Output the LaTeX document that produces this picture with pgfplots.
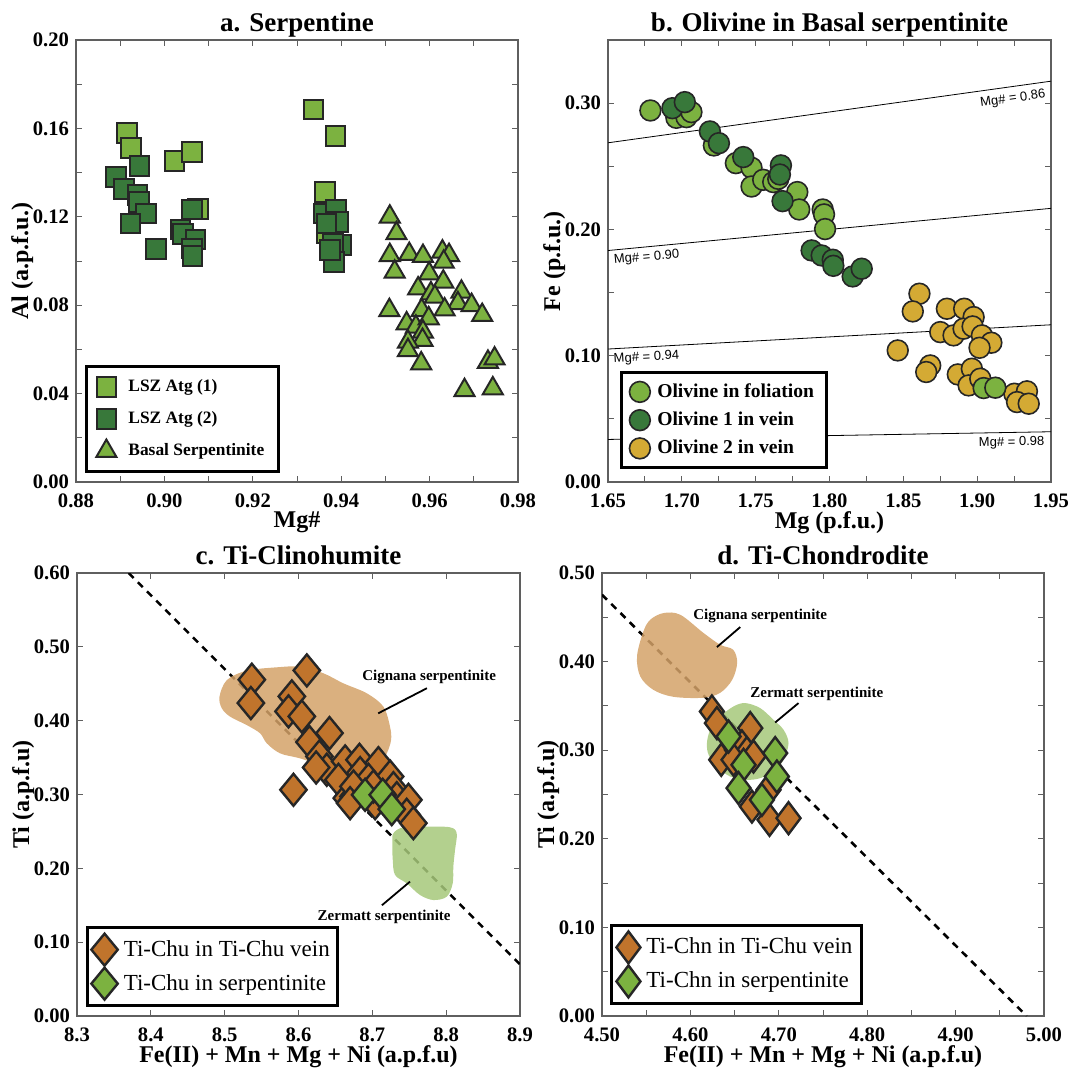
\documentclass[border=0pt]{standalone}
\usepackage{fontspec}
\setmainfont{Liberation Serif}
\newfontfamily\lsans{Liberation Sans}
\usepackage{pgfplots}
\pgfplotsset{compat=1.18}

\definecolor{lgreen}{RGB}{124,178,64}
\definecolor{dgreen}{RGB}{56,120,58}
\definecolor{gold}{RGB}{212,170,52}
\definecolor{orng}{RGB}{192,116,44}
\definecolor{cign}{RGB}{212,162,104}
\definecolor{zerm}{RGB}{166,200,122}
\definecolor{frame}{RGB}{95,95,95}

\pgfplotsset{
 panel/.style={scale only axis, width=221pt, height=221pt,
   axis line style={frame, line width=0.6pt},
   tick style={frame, line width=0.5pt},
   major tick length=3pt, minor tick length=3pt,
   tick align=inside, scaled ticks=false,
   ticklabel style={font=\fontsize{10.3}{12}\selectfont\bfseries},
   xticklabel style={yshift=-2.5pt},
   /pgf/number format/assume math mode=true,
   /pgf/number format/fixed, /pgf/number format/fixed zerofill,
   /pgf/number format/precision=2,
   label style={font=\fontsize{12}{14}\selectfont\bfseries},
   ylabel shift=-7pt, xlabel shift=-5pt,
   title style={font=\fontsize{13.5}{15}\selectfont\bfseries, at={(0.5,1)}, anchor=base, yshift=-1.5pt},
   legend cell align=left,
   legend style={draw=black, line width=1.5pt, fill=white, inner xsep=3pt, inner ysep=3pt, column sep=2pt},
 },
 sqL/.style={only marks, mark=square*, mark size=4.9pt, mark options={fill=lgreen, draw=black!85, line width=1pt}},
 sqD/.style={only marks, mark=square*, mark size=4.9pt, mark options={fill=dgreen, draw=black!85, line width=1pt}},
 triL/.style={only marks, mark=triangle*, mark size=5.8pt, mark options={fill=lgreen, draw=black!85, line width=1pt}},
 ciL/.style={only marks, mark=*, mark size=5.2pt, mark options={fill=lgreen, draw=black!85, line width=0.8pt}},
 ciD/.style={only marks, mark=*, mark size=5.2pt, mark options={fill=dgreen, draw=black!85, line width=0.8pt}},
 ciG/.style={only marks, mark=*, mark size=5.2pt, mark options={fill=gold, draw=black!85, line width=0.8pt}},
 diO/.style={only marks, mark=diamond*, mark size=8pt, mark options={fill=orng, draw=black!85, line width=1.2pt}},
 diG/.style={only marks, mark=diamond*, mark size=8pt, mark options={fill=lgreen, draw=black!85, line width=1.2pt}},
 diOc/.style={only marks, mark=diamond*, mark size=8pt, mark options={fill=orng, draw=black!85, line width=1.2pt, xscale=1.1}},
 diGc/.style={only marks, mark=diamond*, mark size=8pt, mark options={fill=lgreen, draw=black!85, line width=1.2pt, xscale=1.1}},
}

\begin{document}
\begin{tikzpicture}
\useasboundingbox (0pt,0pt) rectangle (535pt,-535.5pt);

% ---------------- a ----------------
\begin{axis}[panel, at={(38pt,-241pt)}, anchor=south west,
  title={a. Serpentine},
  xmin=0.88, xmax=0.98, ymin=0, ymax=0.2,
  xtick={0.88,0.90,0.92,0.94,0.96,0.98},
  ytick={0,0.04,0.08,0.12,0.16,0.20},
  minor tick num=1,
  xlabel={Mg\#}, ylabel={Al (a.p.f.u.)},
  legend style={at={(0.02,0.02)}, anchor=south west, font=\fontsize{8.7}{10}\selectfont\bfseries, row sep=4.5pt, inner xsep=5pt, inner ysep=4.5pt, column sep=4pt},
]
\addplot[sqL] coordinates {
(0.9337,0.1686) (0.9387,0.1565) (0.8915,0.1580) (0.8924,0.1510) (0.9023,0.1452)
(0.9063,0.1493) (0.9076,0.1235) (0.9364,0.1313) (0.9367,0.1125)
};
\addlegendentry{LSZ Atg (1)}
\addplot[sqD] coordinates {
(0.8944,0.1429) (0.8891,0.1381) (0.8909,0.1327) (0.8939,0.1298) (0.8942,0.1268)
(0.8959,0.1215) (0.8923,0.1170) (0.8981,0.1054) (0.9036,0.1143) (0.9042,0.1122)
(0.9062,0.1233) (0.9070,0.1098) (0.9062,0.1057) (0.9064,0.1023) (0.9360,0.1215)
(0.9388,0.1230) (0.9393,0.1177) (0.9401,0.1072) (0.9382,0.1079) (0.9384,0.0996)
(0.9375,0.1050) (0.9367,0.1170)
};
\addlegendentry{LSZ Atg (2)}
\addplot[triL] coordinates {
(0.9510,0.1200) (0.9525,0.1125) (0.9510,0.1026) (0.9554,0.1031) (0.9585,0.1022)
(0.9629,0.1042) (0.9644,0.1026) (0.9521,0.0951) (0.9599,0.0943) (0.9632,0.0996)
(0.9631,0.0906) (0.9574,0.0875) (0.9603,0.0853) (0.9612,0.0838) (0.9672,0.0860)
(0.9664,0.0808) (0.9695,0.0800) (0.9634,0.0780) (0.9509,0.0777) (0.9582,0.0777)
(0.9719,0.0755) (0.9548,0.0717) (0.9569,0.0702) (0.9598,0.0740) (0.9585,0.0679)
(0.9584,0.0642) (0.9551,0.0634) (0.9551,0.0596) (0.9581,0.0536) (0.9732,0.0543)
(0.9747,0.0558) (0.9679,0.0415) (0.9743,0.0423)
};
\addlegendentry{Basal Serpentinite}
\end{axis}

% ---------------- b ----------------
\begin{axis}[panel, at={(304pt,-241pt)}, anchor=south west, width=221.5pt,
  title={b. Olivine in Basal serpentinite},
  xmin=1.65, xmax=1.95, ymin=0, ymax=0.35,
  xtick={1.65,1.70,1.75,1.80,1.85,1.90,1.95},
  ytick={0,0.1,0.2,0.3},
  minor tick num=1,
  xlabel={Mg (p.f.u.)}, ylabel={Fe (p.f.u.)},
  legend style={at={(0.027,0.029)}, anchor=south west, font=\fontsize{9.8}{11}\selectfont\bfseries, row sep=1.8pt, inner xsep=4pt, inner ysep=3.5pt, column sep=1.5pt},
]
\addplot[black, line width=0.4pt, forget plot] coordinates {(1.65,0.2686) (1.95,0.3174)};
\addplot[black, line width=0.4pt, forget plot] coordinates {(1.65,0.1833) (1.95,0.2167)};
\addplot[black, line width=0.4pt, forget plot] coordinates {(1.65,0.1053) (1.95,0.1245)};
\addplot[black, line width=0.4pt, forget plot] coordinates {(1.65,0.0337) (1.95,0.0398)};
\node[font=\lsans\fontsize{6.5}{8}\selectfont, anchor=north east, rotate=7.9, inner sep=1pt] at (axis cs:1.947,0.3135) {Mg\# = 0.86};
\node[font=\lsans\fontsize{6.5}{8}\selectfont, anchor=north west, rotate=5.4, inner sep=1pt] at (axis cs:1.652,0.1815) {Mg\# = 0.90};
\node[font=\lsans\fontsize{6.5}{8}\selectfont, anchor=north west, rotate=3.1, inner sep=1pt] at (axis cs:1.652,0.1035) {Mg\# = 0.94};
\node[font=\lsans\fontsize{6.5}{8}\selectfont, anchor=north east, rotate=1, inner sep=1pt] at (axis cs:1.947,0.0380) {Mg\# = 0.98};
\addplot[ciG, forget plot] coordinates {
(1.8609,0.1491) (1.8564,0.1351) (1.8795,0.1372) (1.8912,0.1372) (1.8976,0.1306)
(1.8750,0.1187) (1.8840,0.1161) (1.8908,0.1214) (1.8969,0.1232) (1.9032,0.1161)
(1.9096,0.1103) (1.9016,0.1063) (1.8462,0.1042) (1.8682,0.0923) (1.8655,0.0871)
(1.8869,0.0852) (1.8964,0.0897) (1.8942,0.0765) (1.9021,0.0818) (1.9252,0.0699)
(1.9337,0.0718) (1.9270,0.0633) (1.9349,0.0620)
};
\addplot[ciL] coordinates {
(1.6787,0.2942) (1.6963,0.2884) (1.7031,0.2889) (1.7065,0.2929) (1.7217,0.2665)
(1.7366,0.2525) (1.7472,0.2488) (1.7472,0.2340) (1.7551,0.2393) (1.7619,0.2375)
(1.7653,0.2401) (1.7782,0.2296) (1.7795,0.2158) (1.7954,0.2158) (1.7963,0.2119)
(1.7970,0.2003) (1.9044,0.0744) (1.9123,0.0747)
};
\addlegendentry{Olivine in foliation}
\addplot[ciD] coordinates {
(1.6936,0.2960) (1.7020,0.3008) (1.7190,0.2776) (1.7251,0.2683) (1.7416,0.2573)
(1.7671,0.2507) (1.7664,0.2435) (1.7682,0.2224) (1.7879,0.1834) (1.7947,0.1794)
(1.8022,0.1760) (1.8026,0.1712) (1.8157,0.1628) (1.8218,0.1689)
};
\addlegendentry{Olivine 1 in vein}
\addlegendimage{ciG}
\addlegendentry{Olivine 2 in vein}
\end{axis}

% ---------------- c ----------------
\begin{axis}[panel, at={(38.5pt,-508pt)}, anchor=south west, width=221.5pt, height=221.5pt,
  title={c. Ti-Clinohumite},
  xmin=8.3, xmax=8.9, ymin=0, ymax=0.6,
  xtick={8.3,8.4,8.5,8.6,8.7,8.8,8.9},
  ytick={0,0.1,0.2,0.3,0.4,0.5,0.6},
  xticklabel style={/pgf/number format/precision=1},
  xlabel={Fe(II) + Mn + Mg + Ni (a.p.f.u)}, ylabel={Ti (a.p.f.u)},
  legend style={at={(0.02,0.02)}, anchor=south west, font=\fontsize{11.5}{13}\selectfont, row sep=1pt, inner xsep=2pt, column sep=1pt},
]
\addplot[black, line width=1.3pt, dash pattern=on 3.5pt off 3pt, forget plot] coordinates {(8.37,0.6) (8.9,0.07)};
\addplot[fill=cign, draw=none, fill opacity=0.85, smooth cycle, tension=0.55, forget plot] coordinates {
(8.493,0.4325) (8.503,0.455) (8.530,0.4677) (8.5707,0.4723) (8.6022,0.4731) (8.6337,0.4642)
(8.6608,0.4506) (8.6925,0.4371) (8.715,0.419) (8.724,0.3918) (8.7254,0.3738) (8.7196,0.3558)
(8.7105,0.3423) (8.674,0.3332) (8.638,0.3377) (8.602,0.349) (8.575,0.3558) (8.557,0.3694)
(8.548,0.3829) (8.530,0.394) (8.5075,0.4054) (8.4962,0.4167)
};
\addplot[fill=zerm, draw=none, fill opacity=0.85, smooth cycle, tension=0.55, forget plot] coordinates {
(8.7285,0.2475) (8.742,0.2556) (8.7737,0.2564) (8.8052,0.2556) (8.8143,0.2475) (8.812,0.2248)
(8.8097,0.2022) (8.8089,0.1797) (8.8008,0.1616) (8.7826,0.1571) (8.7646,0.1639) (8.7466,0.1797)
(8.7308,0.191) (8.7277,0.2113) (8.7271,0.2339)
};
\addplot[black, line width=0.9pt, forget plot] coordinates {(8.774,0.444) (8.708,0.410)};
\addplot[black, line width=0.9pt, forget plot] coordinates {(8.713,0.150) (8.751,0.182)};
\node[font=\fontsize{7.5}{9}\selectfont\bfseries] at (axis cs:8.777,0.4587) {Cignana serpentinite};
\node[font=\fontsize{7.5}{9}\selectfont\bfseries] at (axis cs:8.716,0.1347) {Zermatt serpentinite};
\addplot[diOc] coordinates {
(8.5368,0.4555) (8.5355,0.4239) (8.6113,0.4681) (8.5910,0.4329) (8.5865,0.4126)
(8.6045,0.4058) (8.6149,0.3710) (8.6420,0.3832) (8.6284,0.3516) (8.6383,0.3335)
(8.6239,0.3366) (8.5932,0.3064) (8.6632,0.3448) (8.6826,0.3470) (8.7083,0.3425)
(8.6541,0.3199) (8.6654,0.2951) (8.6745,0.2973) (8.6835,0.3290) (8.6948,0.3199)
(8.7038,0.2883) (8.7241,0.3244) (8.7286,0.3086) (8.7331,0.2951) (8.7489,0.2928)
(8.7466,0.2725) (8.7556,0.2612) (8.6745,0.3109) (8.7015,0.3109) (8.6699,0.2883)
};
\addlegendentry{Ti-Chu in Ti-Chu vein}
\addplot[diGc] coordinates {
(8.6902,0.2996) (8.7141,0.2996) (8.7263,0.2802)
};
\addlegendentry{Ti-Chu in serpentinite}
\end{axis}

% ---------------- d ----------------
\begin{axis}[panel, at={(301pt,-508pt)}, anchor=south west, width=221pt, height=221.5pt,
  title={d. Ti-Chondrodite},
  xmin=4.5, xmax=5.0, ymin=0, ymax=0.5,
  xtick={4.5,4.6,4.7,4.8,4.9,5.0},
  ytick={0,0.1,0.2,0.3,0.4,0.5},
  minor tick num=1,
  xlabel={Fe(II) + Mn + Mg + Ni (a.p.f.u)}, ylabel={Ti (a.p.f.u)},
  legend style={at={(0.018,0.025)}, anchor=south west, font=\fontsize{11.5}{13}\selectfont, row sep=1pt, inner xsep=2.5pt, column sep=1pt},
]
\addplot[black, line width=1.3pt, dash pattern=on 3.5pt off 3pt, forget plot] coordinates {(4.5,0.4755) (4.9804,0)};
\addplot[fill=cign, draw=none, fill opacity=0.85, smooth cycle, tension=0.55, forget plot] coordinates {
(4.5433,0.3832) (4.5396,0.4058) (4.5467,0.4337) (4.5546,0.4473) (4.5696,0.4548) (4.5885,0.4529)
(4.6145,0.4326) (4.6337,0.4190) (4.6484,0.4134) (4.6529,0.3987) (4.6473,0.3795) (4.6337,0.3648)
(4.6145,0.3592) (4.5806,0.3603) (4.5580,0.3682)
};
\addplot[fill=zerm, draw=none, fill opacity=0.85, smooth cycle, tension=0.55, forget plot] coordinates {
(4.6187,0.3080) (4.6225,0.3230) (4.6338,0.3381) (4.6488,0.3494) (4.6620,0.3532) (4.6790,0.3475)
(4.6940,0.3343) (4.7054,0.3230) (4.7110,0.3080) (4.7054,0.2892) (4.6940,0.2760) (4.6790,0.2685)
(4.6639,0.2666) (4.6450,0.2703) (4.6300,0.2816) (4.6206,0.2948)
};
\addplot[black, line width=0.9pt, forget plot] coordinates {(4.6564,0.439) (4.630,0.4164)};
\addplot[black, line width=0.9pt, forget plot] coordinates {(4.7223,0.3532) (4.6959,0.3313)};
\node[font=\fontsize{7.5}{9}\selectfont\bfseries] at (axis cs:4.679,0.451) {Cignana serpentinite};
\node[font=\fontsize{7.5}{9}\selectfont\bfseries] at (axis cs:4.743,0.3637) {Zermatt serpentinite};
\addplot[diO] coordinates {
(4.6243,0.3437) (4.6300,0.3306) (4.6677,0.3249) (4.6349,0.2892) (4.6526,0.3004)
(4.6583,0.3042) (4.6639,0.2967) (4.6714,0.2929) (4.6488,0.2892) (4.6696,0.2364)
(4.6895,0.2214) (4.7110,0.2233) (4.6884,0.2553)
};
\addlegendentry{Ti-Chn in Ti-Chu vein}
\addplot[diG] coordinates {
(4.6432,0.3155) (4.6601,0.2835) (4.6959,0.2967) (4.6978,0.2703) (4.6545,0.2572) (4.6809,0.2440)
};
\addlegendentry{Ti-Chn in serpentinite}
\end{axis}
\end{tikzpicture}
\end{document}
